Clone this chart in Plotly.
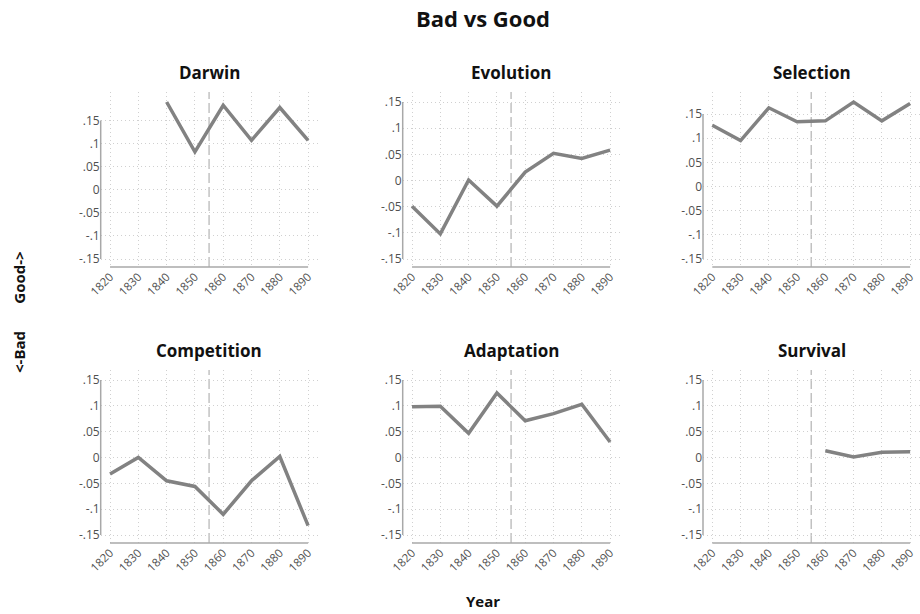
import plotly.graph_objects as go

# Decades on the x axis
years = [1820, 1830, 1840, 1850, 1860, 1870, 1880, 1890]

# Good-minus-bad sentiment score per term, by decade (None = no data)
darwin = [None, None, 0.190, 0.082, 0.183, 0.107, 0.178, 0.107]
evolution = [-0.049, -0.102, 0.001, -0.049, 0.016, 0.052, 0.042, 0.058]
selection = [0.127, 0.095, 0.163, 0.134, 0.136, 0.175, 0.136, 0.172]
competition = [-0.032, 0.000, -0.045, -0.056, -0.110, -0.045, 0.002, -0.132]
adaptation = [0.098, 0.099, 0.047, 0.125, 0.071, 0.085, 0.103, 0.030]
survival = [None, None, None, None, 0.013, 0.001, 0.010, 0.011]

terms = ["Darwin", "Evolution", "Selection", "Competition", "Adaptation", "Survival"]
series = [darwin, evolution, selection, competition, adaptation, survival]

y_tick_vals = [-0.15, -0.1, -0.05, 0, 0.05, 0.1, 0.15]
y_tick_text = ["-.15", "-.1", "-.05", "0", ".05", ".1", ".15"]
marker_year = 1855

W, H = 920, 614
FONT = "Open Sans"

# Panel placement in pixels: (left, right) per column, (top, bottom) per row
col_px = [(100.7, 318.0), (402.7, 620.0), (703.0, 921.0)]
row_px = [(92.0, 267.0), (370.0, 543.0)]

x_range = [1816.7, 1893.5]

fig = go.Figure()

for i, (name, vals) in enumerate(zip(terms, series)):
    r, c = divmod(i, 3)
    n = i + 1
    xa = "x" if n == 1 else f"x{n}"
    ya = "y" if n == 1 else f"y{n}"
    xkey = "xaxis" if n == 1 else f"xaxis{n}"
    ykey = "yaxis" if n == 1 else f"yaxis{n}"

    (x0p, x1p), (t_p, b_p) = col_px[c], row_px[r]
    h_px = b_p - t_p

    present = [v for v in vals if v is not None]
    hi = max(0.15, max(present))
    lo = min(-0.15, min(present))
    scale = (hi - lo) / (h_px - 18)
    y_range = [lo - 8 * scale, hi + 10 * scale]

    fig.add_trace(go.Scatter(
        x=years, y=vals, mode="lines", xaxis=xa, yaxis=ya,
        line=dict(color="#828282", width=3.5), connectgaps=False,
        showlegend=False, hoverinfo="skip",
    ))

    fig.layout[xkey] = dict(
        domain=[x0p / W, min(x1p / W, 1.0)], range=x_range, anchor=ya,
        tickvals=years, ticktext=[str(y) for y in years], tickangle=-45,
        showgrid=True, gridcolor="#d0d0d0", griddash="1px,3px", gridwidth=1,
        zeroline=False, showline=False, ticks="", automargin=False,
        tickfont=dict(family=FONT, size=11.5, color="#505050"),
        fixedrange=True,
    )
    fig.layout[ykey] = dict(
        domain=[1 - b_p / H, 1 - t_p / H], range=y_range, anchor=xa,
        tickvals=y_tick_vals, ticktext=y_tick_text,
        showgrid=True, gridcolor="#d0d0d0", griddash="1px,3px", gridwidth=1,
        zeroline=False, showline=False, ticks="", automargin=False,
        tickfont=dict(family=FONT, size=12, color="#505050"),
        fixedrange=True,
    )

    # vertical dashed reference line
    fig.add_shape(type="line", xref=xa, yref=f"{ya} domain",
                  x0=marker_year, x1=marker_year, y0=0, y1=1,
                  line=dict(color="#b8b8b8", width=1.3, dash="10px,4px"),
                  layer="below")
    # axis lines spanning only the labelled ranges
    fig.add_shape(type="line", xref=f"{xa} domain", yref=ya,
                  x0=0, x1=0, y0=-0.15, y1=0.15,
                  line=dict(color="#a8a8a8", width=1.5), layer="above")
    fig.add_shape(type="line", xref=xa, yref=f"{ya} domain",
                  x0=1820, x1=1890, y0=0, y1=0,
                  line=dict(color="#a8a8a8", width=1.5), layer="above")

    # panel title
    fig.add_annotation(
        text=f"<b>{name}</b>", xref="paper", yref="paper",
        x=(x0p + min(x1p, W)) / 2 / W, y=1 - (t_p - 20) / H,
        showarrow=False, xanchor="center", yanchor="middle",
        font=dict(family=FONT, size=17, color="#111111"),
    )

fig.add_annotation(
    text="<b>Bad vs Good</b>", xref="paper", yref="paper",
    x=483 / W, y=1 - 18 / H, showarrow=False,
    xanchor="center", yanchor="middle",
    font=dict(family=FONT, size=22, color="#111111"),
)
fig.add_annotation(
    text="<b>Year</b>", xref="paper", yref="paper",
    x=483 / W, y=1 - 601 / H, showarrow=False,
    xanchor="center", yanchor="middle",
    font=dict(family=FONT, size=15, color="#111111"),
)
fig.add_annotation(
    text="<b>&lt;-Bad&nbsp;&nbsp;&nbsp;&nbsp;&nbsp;&nbsp;&nbsp;Good-&gt;</b>",
    xref="paper", yref="paper", x=19 / W, y=1 - 312 / H,
    showarrow=False, textangle=-90, xanchor="center", yanchor="middle",
    font=dict(family=FONT, size=15, color="#111111"),
)

fig.update_layout(
    width=W, height=H, margin=dict(l=0, r=0, t=0, b=0),
    paper_bgcolor="white", plot_bgcolor="white",
    font=dict(family=FONT),
)

fig.write_html("out.html")
